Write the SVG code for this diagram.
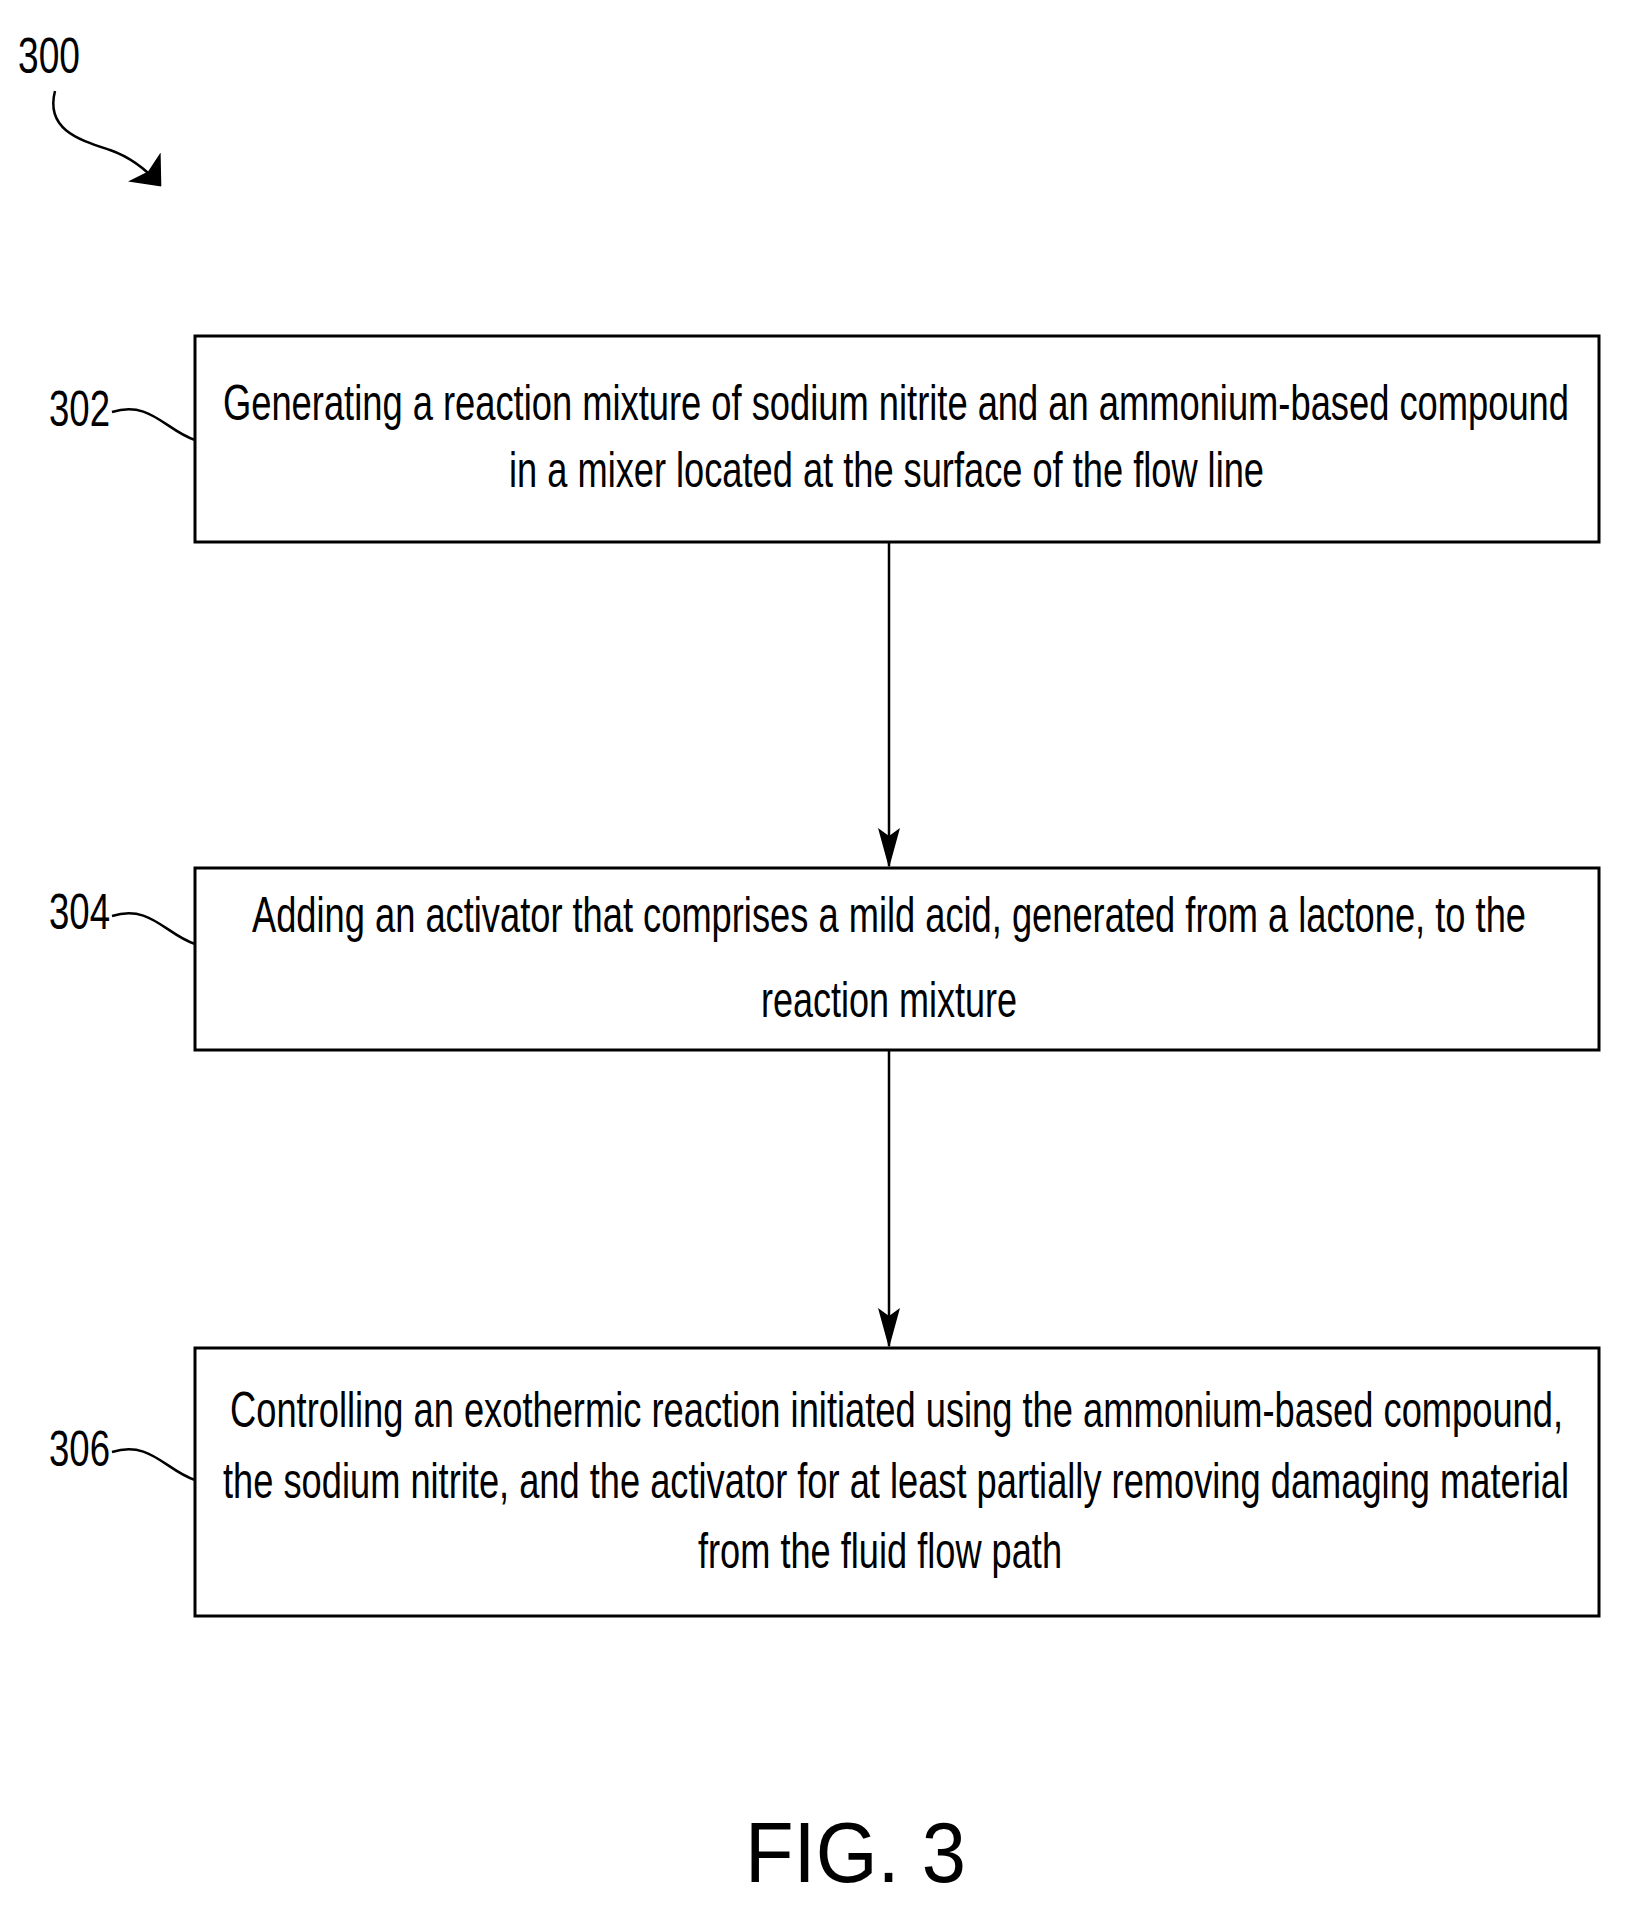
<svg xmlns="http://www.w3.org/2000/svg" width="1632" height="1922" viewBox="0 0 1632 1922">
<style>
.box{fill:#fff;stroke:#000;stroke-width:3}
.t{font-family:"Liberation Sans",Arial,sans-serif;font-size:50px;fill:#000}
.lbl{font-family:"Liberation Sans",Arial,sans-serif;font-size:50px;fill:#000}
.ln{fill:none;stroke:#000;stroke-width:2.5}
</style>
<defs><marker id="ah" markerWidth="40" markerHeight="22" refX="38" refY="11" orient="auto" markerUnits="userSpaceOnUse" viewBox="0 0 40 22"><path d="M0,0 L40,11 L0,22 L8,11 Z" fill="#000"/></marker>
<marker id="ah2" markerWidth="26" markerHeight="44" refX="24" refY="22" orient="auto" markerUnits="userSpaceOnUse" viewBox="0 0 26 44"><path d="M0,0 L26,22 L0,44 L6,22 Z" fill="#000"/></marker></defs>
<g id="label300"><text class="lbl" x="18" y="73" textLength="62" lengthAdjust="spacingAndGlyphs">300</text>
<path class="ln" d="M55,91 C45,130 80,140 110,150 C130,157 145,168 160,185" marker-end="url(#ah2)"/></g>
<g id="n302"><rect class="box" x="195" y="336" width="1404" height="206"/>
<text class="t" x="223" y="420" textLength="1346" lengthAdjust="spacingAndGlyphs">Generating a reaction mixture of sodium nitrite and an ammonium-based compound</text>
<text class="t" x="509" y="487" textLength="755" lengthAdjust="spacingAndGlyphs">in a mixer located at the surface of the flow line</text>
<text class="lbl" x="49" y="426" textLength="61" lengthAdjust="spacingAndGlyphs">302</text>
<path class="ln" d="M112,412 C150,400 165,430 195,440"/></g>
<g id="n304"><rect class="box" x="195" y="868" width="1404" height="182"/>
<text class="t" x="252" y="932" textLength="1274" lengthAdjust="spacingAndGlyphs">Adding an activator that comprises a mild acid, generated from a lactone, to the</text>
<text class="t" x="761" y="1017" textLength="256" lengthAdjust="spacingAndGlyphs">reaction mixture</text>
<text class="lbl" x="49" y="929" textLength="61" lengthAdjust="spacingAndGlyphs">304</text>
<path class="ln" d="M112,916 C150,904 165,934 195,944"/></g>
<g id="n306"><rect class="box" x="195" y="1348" width="1404" height="268"/>
<text class="t" x="230" y="1427" textLength="1333" lengthAdjust="spacingAndGlyphs">Controlling an exothermic reaction initiated using the ammonium-based compound,</text>
<text class="t" x="223" y="1498" textLength="1346" lengthAdjust="spacingAndGlyphs">the sodium nitrite, and the activator for at least partially removing damaging material</text>
<text class="t" x="698" y="1568" textLength="364" lengthAdjust="spacingAndGlyphs">from the fluid flow path</text>
<text class="lbl" x="49" y="1466" textLength="61" lengthAdjust="spacingAndGlyphs">306</text>
<path class="ln" d="M112,1452 C150,1440 165,1470 195,1480"/></g>
<g id="connectors">
<line class="ln" x1="889" y1="542" x2="889" y2="866" marker-end="url(#ah)"/>
<line class="ln" x1="889" y1="1050" x2="889" y2="1346" marker-end="url(#ah)"/>
</g>
<text x="745" y="1882" font-family="Liberation Sans,Arial,sans-serif" font-size="86" textLength="221" lengthAdjust="spacingAndGlyphs">FIG. 3</text>
</svg>
